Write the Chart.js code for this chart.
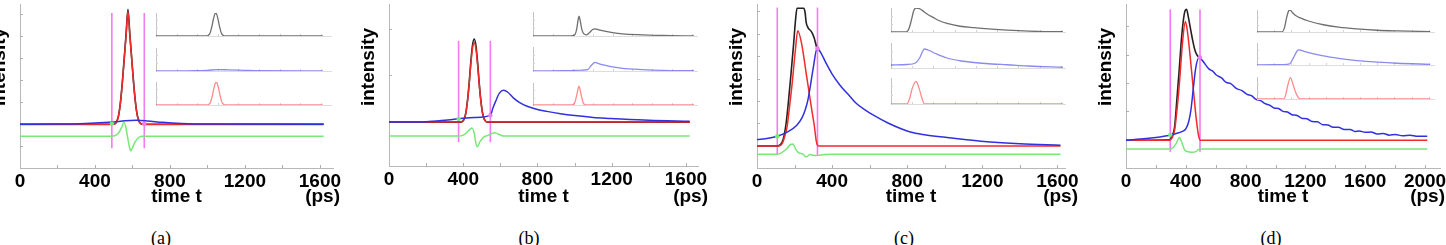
<!DOCTYPE html>
<html>
<head>
<meta charset="utf-8">
<script src="https://cdn.jsdelivr.net/npm/chart.js@4.4.1/dist/chart.umd.min.js"></script>
<style>
  html, body { margin: 0; padding: 0; background: #fff; width: 1446px; height: 245px; overflow: hidden; position: relative; }
  canvas { position: absolute; }
  .cap { position: absolute; top: 227px; font: 18px "Liberation Serif", "Times New Roman", serif; color: #000; line-height: 22px; transform: translateX(-50%); }
</style>
</head>
<body>
<script>
// ---- data: [time t (ps), intensity] ----
const xTicksA = [0, 400, 800, 1200, 1600];
const xTicksD = [0, 400, 800, 1200, 1600, 2000];

// panel (a)
const aBlack = [[0,1.99],[480,1.99],[491,2.0],[506,2.02],[516,2.12],[526,2.4],[536,3.0],[546,3.9],[556,5.0],[566,6.1],[576,7.23],[586,6.1],[596,5.0],[606,3.9],[616,3.0],[626,2.4],[636,2.12],[646,2.02],[661,2.0],[680,1.99],[1620,1.99]];
const aRed = [[0,1.98],[480,1.98],[506,2.01],[516,2.1],[526,2.38],[536,2.97],[546,3.87],[556,4.95],[566,6.03],[576,7.15],[586,6.03],[596,4.95],[606,3.87],[616,2.97],[626,2.38],[636,2.1],[646,2.01],[661,1.98],[1620,1.98]];
const aBlue = [[0,1.99],[200,2.0],[350,2.03],[450,2.07],[500,2.1],[560,2.15],[620,2.17],[680,2.14],[760,2.08],[860,2.03],[1000,2.0],[1620,1.99]];
const aGreen = [[0,1.45],[485,1.45],[505,1.47],[525,1.58],[542,1.85],[555,2.08],[566,1.8],[576,1.3],[584,0.95],[591,0.78],[600,0.92],[615,1.2],[635,1.4],[655,1.45],[1620,1.45]];
const aCuts = [490, 663];
const aCutSpan = [0.9, 7.06];
const aMarks = [[490, 2.02], [663, 2.02]];
const aInBlack = [[0,0],[480,0],[505,0.02],[520,0.08],[530,0.19],[540,0.36],[550,0.57],[560,0.78],[570,0.94],[580,1.0],[590,0.94],[600,0.78],[610,0.57],[620,0.36],[630,0.19],[640,0.08],[655,0.02],[680,0],[1620,0]];
const aInBlue = [[0,0],[400,0.01],[500,0.03],[600,0.06],[700,0.05],[850,0.03],[1000,0.01],[1620,0]];
const aInRed = [[0,0],[485,0],[510,0.02],[525,0.08],[535,0.19],[545,0.36],[555,0.57],[565,0.78],[575,0.93],[585,0.99],[595,0.93],[605,0.78],[615,0.57],[625,0.36],[635,0.19],[645,0.08],[660,0.02],[685,0],[1620,0]];

// panel (b)
const bBlack = [[0,1.0],[385,1.0],[404,1.06],[414,1.2],[424,1.5],[433,1.89],[439,2.2],[449,2.62],[459,2.78],[469,2.62],[479,2.2],[485,1.89],[494,1.5],[504,1.2],[514,1.06],[530,1.0],[1620,1.0]];
const bRed = [[0,1.0],[385,1.0],[404,1.05],[414,1.19],[424,1.48],[433,1.86],[439,2.15],[449,2.55],[459,2.7],[469,2.55],[479,2.15],[485,1.86],[494,1.48],[504,1.19],[514,1.05],[530,1.0],[1620,1.0]];
const bBlue = [[0,1.0],[200,1.01],[300,1.04],[375,1.07],[460,1.1],[546,1.145],[560,1.3],[575,1.45],[595,1.62],[618,1.68],[640,1.64],[670,1.52],[700,1.43],[744,1.34],[800,1.27],[850,1.23],[924,1.18],[1000,1.14],[1100,1.1],[1195,1.08],[1400,1.04],[1620,1.02]];
const bGreen = [[0,0.7],[370,0.7],[400,0.72],[425,0.8],[447,0.875],[460,0.75],[468,0.55],[476,0.47],[490,0.58],[510,0.68],[530,0.71],[550,0.75],[568,0.77],[590,0.74],[620,0.7],[1620,0.7]];
const bCuts = [375, 546];
const bCutSpan = [0.57, 2.74];
const bMarks = [[375, 1.07], [546, 1.145]];
const bInBlack = [[0,0],[380,0],[420,0.05],[440,0.3],[455,0.7],[463,0.83],[472,0.7],[490,0.3],[510,0.1],[540,0.05],[570,0.15],[600,0.27],[624,0.3],[660,0.26],[720,0.2],[800,0.14],[900,0.09],[1100,0.05],[1300,0.02],[1620,0]];
const bInBlue = [[0,0],[300,0.01],[500,0.04],[550,0.06],[590,0.25],[624,0.36],[660,0.31],[720,0.24],[800,0.17],[900,0.11],[1100,0.06],[1300,0.03],[1620,0.01]];
const bInRed = [[0,0],[395,0],[420,0.1],[440,0.45],[463,0.86],[485,0.45],[505,0.1],[530,0],[1620,0]];

// panel (c)
const cBlack = [[0,0.98],[110,0.99],[125,1.05],[140,1.3],[155,2.0],[168,3.02],[182,4.3],[195,5.55],[205,6.6],[213,7.14],[249,7.14],[256,6.95],[262,6.5],[270,6.3],[292,6.06],[305,5.8],[318,5.39],[325,5.3]];
const cRed = [[0,0.98],[115,0.98],[135,1.1],[147,1.4],[160,1.84],[174,2.8],[187,3.76],[204,5.24],[217,6.13],[238,5.54],[265,4.06],[292,2.58],[305,1.9],[315,1.24],[322,1.02],[330,0.98],[1616,0.98]];
const cBlue = [[0,1.27],[60,1.33],[108,1.42],[160,1.6],[212,1.91],[240,2.25],[256,2.58],[270,3.0],[283,3.61],[300,4.5],[320,5.35],[340,5.15],[370,4.65],[400,4.2],[443,3.69],[490,3.25],[531,2.87],[575,2.6],[620,2.36],[700,2.0],[816,1.61],[900,1.48],[1012,1.36],[1120,1.26],[1225,1.17],[1400,1.08],[1616,1.02]];
const cGreen = [[0,0.62],[110,0.62],[130,0.68],[160,0.87],[178,1.05],[192,1.07],[204,0.87],[222,0.68],[245,0.62],[258,0.5],[268,0.52],[283,0.6],[300,0.57],[318,0.56],[360,0.6],[400,0.62],[1616,0.62]];
const cCuts = [108, 322];
const cCutSpan = [0.58, 7.17];
const cMarks = [[108, 1.42], [322, 5.35]];
const cInBlack = [[0,0],[140,0],[170,0.15],[195,0.55],[215,0.9],[239,1.0],[270,0.97],[300,0.88],[340,0.75],[400,0.6],[450,0.48],[528,0.36],[650,0.24],[780,0.18],[950,0.12],[1094,0.08],[1300,0.04],[1620,0.01]];
const cInBlue = [[0,0.12],[150,0.14],[230,0.2],[270,0.4],[300,0.68],[313,0.76],[350,0.72],[420,0.58],[528,0.4],[650,0.29],[780,0.22],[950,0.16],[1094,0.13],[1300,0.08],[1620,0.03]];
const cInRed = [[0,0],[150,0],[175,0.2],[200,0.6],[236,0.87],[265,0.6],[290,0.25],[315,0],[1620,0]];

// panel (d)
const dBlack = [[0,0.98],[290,1.0],[310,1.15],[325,1.45],[340,2.4],[357,3.55],[370,4.5],[383,5.19],[395,5.55],[405,5.6],[418,5.3],[434,4.84],[448,4.45],[462,4.14],[476,3.98],[488,3.9]];
const dRed = [[0,0.98],[290,0.98],[310,1.08],[325,1.33],[340,2.0],[357,2.97],[379,4.49],[397,5.17],[410,4.85],[423,4.26],[449,2.85],[471,1.68],[485,1.15],[495,0.98],[2015,0.98]];
const dBlue = [[0,0.98],[100,1.02],[200,1.08],[292,1.16],[336,1.22],[380,1.3],[401,1.39],[420,1.65],[434,2.04],[450,2.8],[467,3.55],[488,3.9],[510,3.8],[554,3.5],[580,3.42],[600,3.3],[641,3.17],[670,3.02],[700,2.98],[740,2.8],[773,2.74],[810,2.6],[840,2.55],[870,2.42],[900,2.38],[930,2.27],[960,2.22],[990,2.12],[1020,2.1],[1050,2.0],[1080,1.98],[1110,1.88],[1140,1.86],[1175,1.76],[1210,1.74],[1245,1.64],[1280,1.63],[1315,1.53],[1350,1.52],[1385,1.44],[1420,1.44],[1460,1.36],[1500,1.36],[1530,1.29],[1560,1.31],[1600,1.26],[1640,1.27],[1680,1.2],[1720,1.22],[1760,1.16],[1800,1.18],[1850,1.14],[1900,1.16],[1950,1.12],[2015,1.12]];
const dGreen = [[0,0.67],[290,0.67],[315,0.72],[336,0.87],[357,1.08],[372,0.92],[390,0.66],[410,0.58],[440,0.56],[467,0.58],[488,0.66],[510,0.67],[2015,0.67]];
const dCuts = [296, 495];
const dCutSpan = [0.57, 5.6];
const dMarks = [[296, 1.17], [495, 3.9]];
const dInBlack = [[0,0],[290,0],[320,0.2],[345,0.65],[370,0.97],[385,1.0],[410,0.9],[450,0.75],[505,0.64],[600,0.5],[773,0.33],[950,0.22],[1165,0.14],[1400,0.08],[1632,0.05],[2015,0.02]];
const dInBlue = [[0,0],[300,0.02],[380,0.05],[420,0.3],[460,0.6],[483,0.69],[550,0.62],[650,0.52],[773,0.41],[950,0.3],[1165,0.2],[1400,0.13],[1632,0.08],[2015,0.03]];
const dInRed = [[0,0],[310,0],[335,0.2],[360,0.65],[390,0.97],[420,0.65],[450,0.3],[480,0.07],[505,0],[2015,0]];

// ---- styling / layout ----
const FONT = '"Liberation Sans", Arial, sans-serif';
const C = {
  black: '#222222', red: '#f22a2a', blue: '#3030e0', green: '#78e878', magenta: '#f27cf2',
  inBlack: 'rgba(50,50,50,0.7)', inBlue: 'rgba(60,60,230,0.6)', inRed: 'rgba(255,60,60,0.6)',
  axis: '#b8b8b8', tick: '#b0b0b0'
};

const panels = [
  { cap: '(a)', capX: 161, left: 20, top: 3, bottom: 168, pxPerPs: 0.1875, xMax: 1670, yMin: 0, yMax: 7.47, psRight: 340, ticks: xTicksA,
    black: aBlack, red: aRed, blue: aBlue, green: aGreen, cuts: aCuts, span: aCutSpan, marks: aMarks,
    inset: { left: 156, pxPerPs: 0.103, xMax: 1700, rows: [[13, 36], [48, 71], [82, 105]], series: [aInBlack, aInBlue, aInRed] } },
  { cap: '(b)', capX: 529, left: 389, top: 3, bottom: 166, pxPerPs: 0.1856, xMax: 1665, yMin: 0.06, yMax: 3.53, psRight: 708, ticks: xTicksA,
    black: bBlack, red: bRed, blue: bBlue, green: bGreen, cuts: bCuts, span: bCutSpan, marks: bMarks,
    inset: { left: 533, pxPerPs: 0.0994, xMax: 1650, rows: [[12, 36], [47, 71], [83, 105]], series: [bInBlack, bInBlue, bInRed] } },
  { cap: '(c)', capX: 904, left: 757, top: 3, bottom: 168, pxPerPs: 0.1875, xMax: 1640, yMin: 0, yMax: 7.33, psRight: 1078, ticks: xTicksA,
    black: cBlack, red: cRed, blue: cBlue, green: cGreen, cuts: cCuts, span: cCutSpan, marks: cMarks,
    inset: { left: 891, pxPerPs: 0.106, xMax: 1640, rows: [[8, 32], [43, 68], [78, 104]], series: [cInBlack, cInBlue, cInRed] } },
  { cap: '(d)', capX: 1271, left: 1126, top: 3, bottom: 168, pxPerPs: 0.1495, xMax: 2100, yMin: 0, yMax: 5.79, psRight: 1445, ticks: xTicksD,
    black: dBlack, red: dRed, blue: dBlue, green: dGreen, cuts: dCuts, span: dCutSpan, marks: dMarks,
    inset: { left: 1257, pxPerPs: 0.0858, xMax: 2060, rows: [[10, 32], [43, 65], [77, 99]], series: [dInBlack, dInBlue, dInRed] } }
];

// inward tick marks plus the extra axis texts
const decor = {
  id: 'decor',
  beforeDatasetsDraw(chart, args, o) {
    const { ctx, chartArea: a, scales: { x, y } } = chart;
    ctx.save();
    ctx.strokeStyle = o.tickColor;
    ctx.lineWidth = 1;
    ctx.beginPath();
    for (let t = o.xStep; t < x.max - 1; t += o.xStep) {
      const px = Math.round(x.getPixelForValue(t)) + 0.5;
      ctx.moveTo(px, a.bottom);
      ctx.lineTo(px, a.bottom - o.len);
    }
    for (let v = Math.floor(y.min / o.yStep + 1) * o.yStep; v < y.max; v += o.yStep) {
      const py = Math.round(y.getPixelForValue(v)) + 0.5;
      ctx.moveTo(a.left, py);
      ctx.lineTo(a.left + o.len, py);
    }
    ctx.stroke();
    ctx.restore();
  },
  afterDraw(chart, args, o) {
    if (!o.yTitle) return;
    const { ctx, chartArea: a } = chart;
    ctx.save();
    ctx.fillStyle = '#000';
    ctx.font = 'bold 19px ' + FONT;
    ctx.textAlign = 'right';
    ctx.textBaseline = 'middle';
    ctx.fillText(o.unit, o.unitX, o.unitY);
    ctx.translate(a.left - 20, o.yTitleY);
    ctx.rotate(-Math.PI / 2);
    ctx.textAlign = 'center';
    ctx.fillText(o.yTitle, 0, 0);
    ctx.restore();
  }
};

const pts = arr => arr.map(([x, y]) => ({ x, y }));
const curve = (arr, color, width, order) => ({
  data: pts(arr), borderColor: color, borderWidth: width, pointRadius: 0,
  cubicInterpolationMode: 'monotone', fill: false, order
});

function addCanvas(left, top, w, h) {
  const cv = document.createElement('canvas');
  cv.width = w; cv.height = h;
  cv.style.left = left + 'px'; cv.style.top = top + 'px';
  cv.style.width = w + 'px'; cv.style.height = h + 'px';
  document.body.appendChild(cv);
  return cv;
}

function makeMain(p) {
  const padL = 40, padR = 30, H = 215;
  const w = Math.round(padL + p.xMax * p.pxPerPs + padR);
  const cvLeft = p.left - padL;
  const cv = addCanvas(cvLeft, 0, w, H);
  const boldFont = { family: FONT, size: 19, weight: 'bold' };

  const datasets = [
    { data: pts(p.marks), showLine: false, pointRadius: 2.2, pointBorderWidth: 0,
      pointBackgroundColor: [C.green, C.magenta], order: 0 },
    curve(p.blue, C.blue, 1.5, 1),
    curve(p.red, C.red, 1.5, 2),
    curve(p.black, C.black, 1.6, 3),
    curve(p.green, C.green, 1.5, 4)
  ];
  p.cuts.forEach(t => datasets.push({
    data: [{ x: t, y: p.span[0] }, { x: t, y: p.span[1] }],
    borderColor: C.magenta, borderWidth: 1.6, pointRadius: 0, tension: 0, order: 5
  }));

  new Chart(cv, {
    type: 'line',
    data: { datasets },
    plugins: [decor],
    options: {
      responsive: false, animation: false, devicePixelRatio: 1,
      layout: { padding: { left: padL, right: padR, top: p.top, bottom: 0 } },
      plugins: {
        legend: { display: false }, tooltip: { enabled: false },
        decor: { tickColor: C.tick, len: 3, xStep: 200, yStep: 1,
                 yTitle: 'intensity', yTitleY: 67, unit: '(ps)', unitX: p.psRight - cvLeft, unitY: 197 }
      },
      scales: {
        x: {
          type: 'linear', min: 0, max: p.xMax,
          border: { color: C.axis, width: 1 },
          grid: { display: false, drawTicks: false },
          afterBuildTicks: s => { s.ticks = p.ticks.map(v => ({ value: v })); },
          ticks: { color: '#000', font: boldFont, padding: 2, maxRotation: 0, autoSkip: false, callback: v => String(v) },
          title: { display: true, text: 'time t', color: '#000', font: boldFont, padding: { top: 0, bottom: 6.6 } },
          afterFit: s => { s.height = H - p.bottom; }
        },
        y: {
          type: 'linear', min: p.yMin, max: p.yMax,
          border: { color: C.axis, width: 1 },
          grid: { display: false, drawTicks: false },
          ticks: { display: false },
          afterFit: s => { s.width = 0; }
        }
      }
    }
  });
}

function makeInset(p, k, color) {
  const ins = p.inset;
  const [t, b] = ins.rows[k];
  const pad = 3;
  const w = Math.round(ins.xMax * ins.pxPerPs) + 2 * pad;
  const h = (b - t) + 2 * pad;
  const cv = addCanvas(ins.left - pad, t - pad, w, h);
  new Chart(cv, {
    type: 'line',
    data: { datasets: [curve(ins.series[k], color, 1.3, 1)] },
    plugins: [decor],
    options: {
      responsive: false, animation: false, devicePixelRatio: 1,
      layout: { padding: pad },
      plugins: {
        legend: { display: false }, tooltip: { enabled: false },
        decor: { tickColor: '#d4d4d4', len: 2, xStep: 200, yStep: 0.34 }
      },
      scales: {
        x: { type: 'linear', min: 0, max: ins.xMax, border: { color: '#dddddd', width: 1 },
             grid: { display: false, drawTicks: false }, ticks: { display: false },
             afterFit: s => { s.height = 0; } },
        y: { type: 'linear', min: 0, max: 1, border: { color: '#c4c4c4', width: 1 },
             grid: { display: false, drawTicks: false }, ticks: { display: false },
             afterFit: s => { s.width = 0; } }
      }
    }
  });
}

panels.forEach(p => {
  makeMain(p);
  makeInset(p, 0, C.inBlack);
  makeInset(p, 1, C.inBlue);
  makeInset(p, 2, C.inRed);
  const cap = document.createElement('div');
  cap.className = 'cap';
  cap.style.left = p.capX + 'px';
  cap.textContent = p.cap;
  document.body.appendChild(cap);
});
</script>
</body>
</html>
